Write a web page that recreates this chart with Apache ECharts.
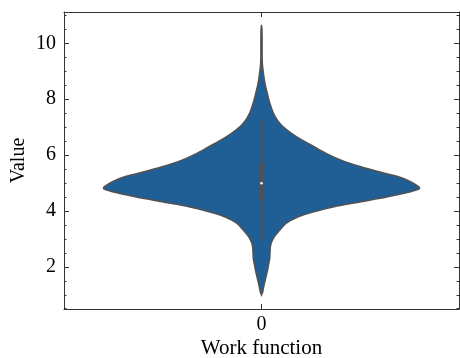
<!DOCTYPE html>
<html>
<head>
<meta charset="utf-8">
<script src="https://cdn.jsdelivr.net/npm/echarts@6/dist/echarts.min.js"></script>
<style>
html,body{margin:0;padding:0;background:#fff;}
#c{width:460px;height:358px;}
</style>
</head>
<body>
<div id="c"></div>
<script>
// ---- data ----
const categories = ['0'];
const yTickLabels = [2, 4, 6, 8, 10];
// KDE profile: value levels and relative half-widths (max = 1)
const kdeValues = [0.99, 1.10, 1.34, 1.58, 1.82, 2.06, 2.30, 2.54, 2.78, 3.02, 3.25, 3.56, 3.79, 3.97, 4.15, 4.33, 4.51, 4.69, 4.80, 4.87, 5.05, 5.23, 5.41, 5.58, 5.82, 6.06, 6.30, 6.54, 6.78, 7.02, 7.22, 7.38, 7.51, 7.73, 7.97, 8.22, 8.45, 8.69, 9.05, 9.23, 9.48, 9.95, 10.48, 10.66];
const kdeDensity = [0, 0.0075, 0.016, 0.026, 0.036, 0.044, 0.052, 0.054, 0.058, 0.075, 0.106, 0.157, 0.233, 0.333, 0.459, 0.629, 0.799, 0.943, 1.0, 0.994, 0.943, 0.862, 0.736, 0.629, 0.503, 0.409, 0.333, 0.255, 0.19, 0.135, 0.104, 0.086, 0.074, 0.060, 0.047, 0.036, 0.026, 0.018, 0.0094, 0.006, 0.004, 0.004, 0.003, 0];
// box statistics: lower whisker, Q1, median, Q3, upper whisker
const boxStats = [2.96, 4.39, 4.99, 5.71, 7.26];

const FONT = 'Liberation Serif';
const violinColor = '#205e96';
const lineColor = '#525252';
const spineColor = '#333333';

const chart = echarts.init(document.getElementById('c'), null, {renderer: 'canvas'});

function renderViolin(params, api) {
  const cat = api.value(0);
  const band = api.size([1, 0])[0];
  const half = band * 0.4;
  const right = [], left = [];
  for (let i = 0; i < kdeValues.length; i++) {
    const p = api.coord([cat, kdeValues[i]]);
    const w = half * kdeDensity[i];
    right.push([p[0] + w, p[1]]);
    left.push([p[0] - w, p[1]]);
  }
  const pts = right.concat(left.reverse());
  const lo = api.coord([cat, boxStats[0]]);
  const q1 = api.coord([cat, boxStats[1]]);
  const md = api.coord([cat, boxStats[2]]);
  const q3 = api.coord([cat, boxStats[3]]);
  const hi = api.coord([cat, boxStats[4]]);
  const boxW = band * 0.0135;
  return {
    type: 'group',
    children: [
      {type: 'polygon', shape: {points: pts, smooth: 0.3},
       style: {fill: violinColor, stroke: lineColor, lineWidth: 1.5}},
      {type: 'line', shape: {x1: lo[0], y1: lo[1], x2: hi[0], y2: hi[1]},
       style: {stroke: lineColor, lineWidth: 2}},
      {type: 'rect', shape: {x: q3[0] - boxW / 2, y: q3[1], width: boxW, height: q1[1] - q3[1]},
       style: {fill: lineColor}},
      {type: 'circle', shape: {cx: md[0], cy: md[1], r: 1.3},
       style: {fill: '#ffffff'}}
    ]
  };
}

const tickStyle = {color: spineColor, width: 1};
const yCommon = {
  type: 'value', min: 0.49, max: 11.12,
  splitLine: {show: false},
  axisLine: {show: true, lineStyle: tickStyle},
  axisTick: {show: true, inside: true, length: 5, lineStyle: tickStyle},
  minorTick: {show: true, splitNumber: 4, length: 2.5, lineStyle: tickStyle},
  minorSplitLine: {show: false}
};

chart.setOption({
  animation: false,
  backgroundColor: '#ffffff',
  grid: {left: 64, right: 1, top: 12, bottom: 49, containLabel: false, outerBoundsMode: 'none'},
  xAxis: [{
    type: 'category', data: categories, position: 'bottom',
    axisLine: {show: true, lineStyle: tickStyle},
    axisTick: {show: true, inside: true, alignWithLabel: true, length: 5, lineStyle: tickStyle},
    axisLabel: {fontFamily: FONT, fontSize: 20, color: '#000', margin: 6},
    splitLine: {show: false},
    name: 'Work function', nameLocation: 'middle', nameGap: 29, nameMoveOverlap: false,
    nameTextStyle: {fontFamily: FONT, fontSize: 21, color: '#000'}
  }, {
    type: 'category', data: categories, position: 'top',
    axisLine: {show: true, lineStyle: tickStyle},
    axisTick: {show: true, inside: true, alignWithLabel: true, length: 5, lineStyle: tickStyle},
    axisLabel: {show: false},
    splitLine: {show: false}
  }],
  yAxis: [Object.assign({}, yCommon, {
    position: 'left',
    axisLabel: {fontFamily: FONT, fontSize: 20, color: '#000', margin: 8,
      formatter: v => yTickLabels.some(t => Math.abs(t - v) < 1e-6) ? String(Math.round(v)) : ''},
    name: 'Value', nameLocation: 'middle', nameGap: 35, nameMoveOverlap: false,
    nameTextStyle: {fontFamily: FONT, fontSize: 20, color: '#000'}
  }), Object.assign({}, yCommon, {
    position: 'right',
    axisLabel: {show: false}
  })],
  series: [{
    type: 'custom',
    xAxisIndex: 0, yAxisIndex: 0,
    data: categories.map((c, i) => [i]),
    renderItem: renderViolin,
    clip: false
  }]
});
</script>
</body>
</html>
